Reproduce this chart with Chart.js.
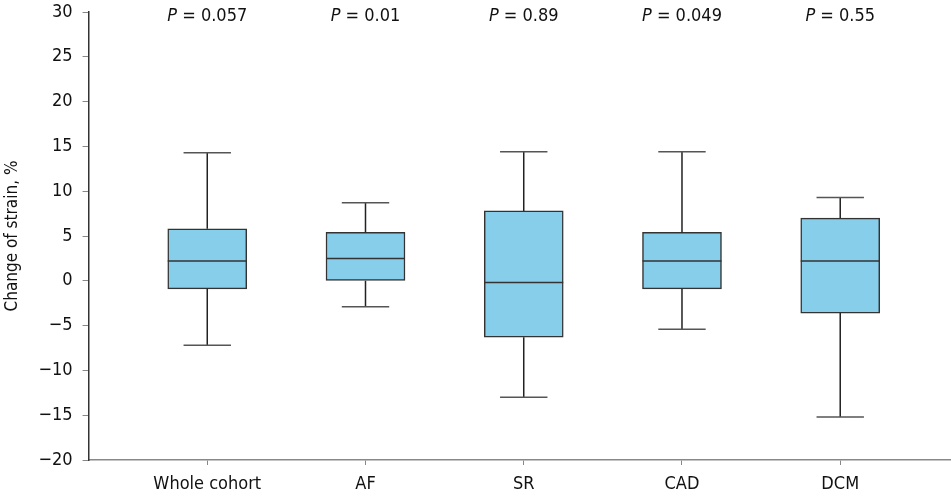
<!DOCTYPE html>
<html>
<head>
<meta charset="utf-8">
<script src="https://cdn.jsdelivr.net/npm/chart.js@4"></script>
<style>
  html, body { margin: 0; padding: 0; background: #fff; }
  #wrap { width: 951px; height: 503px; }
</style>
</head>
<body>
<div id="wrap"><canvas id="boxChart"></canvas></div>
<script>
// data
const categories = ["Whole cohort", "AF", "SR", "CAD", "DCM"];
const whiskerHigh = [14.3, 8.7, 14.4, 14.4, 9.3];
const q3 = [5.8, 5.4, 7.8, 5.4, 7.0];
const median = [2.2, 2.5, -0.2, 2.2, 2.2];
const q1 = [-0.9, 0.0, -6.3, -0.9, -3.6];
const whiskerLow = [-7.2, -2.9, -13.0, -5.4, -15.2];
const pValues = ["0.057", "0.01", "0.89", "0.049", "0.55"];
const yTicks = [-20, -15, -10, -5, 0, 5, 10, 15, 20, 25, 30];

const FONT = "'Liberation Sans Narrow', 'DejaVu Sans Condensed', 'Roboto', sans-serif";
const minus = (v) => String(v).replace("-", "\u2212");

// whiskers, medians and P labels on top of the floating bars
const boxExtras = {
  id: "boxExtras",
  afterDatasetsDraw(chart) {
    const { ctx, scales: { x, y } } = chart;
    const meta = chart.getDatasetMeta(0);
    ctx.save();
    categories.forEach((c, i) => {
      const cx = x.getPixelForValue(i + 1);
      const half = meta.data[i].width / 2;
      const cap = half * 0.6;

      ctx.strokeStyle = "#222";
      ctx.lineWidth = 1.5;
      ctx.beginPath();
      ctx.moveTo(cx, y.getPixelForValue(q3[i]));
      ctx.lineTo(cx, y.getPixelForValue(whiskerHigh[i]));
      ctx.moveTo(cx, y.getPixelForValue(q1[i]));
      ctx.lineTo(cx, y.getPixelForValue(whiskerLow[i]));
      ctx.stroke();

      ctx.strokeStyle = "#555";
      ctx.beginPath();
      ctx.moveTo(cx - cap, y.getPixelForValue(whiskerHigh[i]));
      ctx.lineTo(cx + cap, y.getPixelForValue(whiskerHigh[i]));
      ctx.moveTo(cx - cap, y.getPixelForValue(whiskerLow[i]));
      ctx.lineTo(cx + cap, y.getPixelForValue(whiskerLow[i]));
      ctx.stroke();

      ctx.strokeStyle = "#333";
      ctx.beginPath();
      ctx.moveTo(cx - half, y.getPixelForValue(median[i]));
      ctx.lineTo(cx + half, y.getPixelForValue(median[i]));
      ctx.stroke();

      // P = value, with italic P
      const ty = y.getPixelForValue(30) + 4;
      ctx.fillStyle = "#111";
      ctx.textBaseline = "middle";
      ctx.textAlign = "left";
      ctx.font = "italic 18px " + FONT;
      const pW = ctx.measureText("P").width;
      ctx.font = "18px " + FONT;
      const rest = " = " + pValues[i];
      const rW = ctx.measureText(rest).width;
      const sx = cx - (pW + rW) / 2;
      ctx.font = "italic 18px " + FONT;
      ctx.fillText("P", sx, ty);
      ctx.font = "18px " + FONT;
      ctx.fillText(rest, sx + pW, ty);
    });
    ctx.restore();
  },
};

const ctx = document.getElementById("boxChart").getContext("2d");
new Chart(ctx, {
  type: "bar",
  data: {
    datasets: [
      {
        label: "IQR",
        data: categories.map((c, i) => ({ x: i + 1, y: [q1[i], q3[i]] })),
        backgroundColor: "#87CEEB",
        borderColor: "#333",
        borderWidth: 1.5,
        borderSkipped: false,
        barThickness: 79,
      },
    ],
  },
  options: {
    responsive: true,
    maintainAspectRatio: false,
    animation: false,
    layout: { padding: { top: 0, right: 0, bottom: 0, left: 2 } },
    plugins: {
      legend: { display: false },
      tooltip: { enabled: false },
    },
    scales: {
      x: {
        type: "linear",
        min: 0.25,
        max: 5.7,
        offset: false,
        afterBuildTicks: (axis) => {
          axis.ticks = categories.map((c, i) => ({ value: i + 1 }));
        },
        ticks: {
          callback: (v) => categories[v - 1],
          color: "#111",
          font: { family: FONT, size: 18, lineHeight: 1 },
          padding: 10,
          maxRotation: 0,
          autoSkip: false,
        },
        grid: { offset: false, drawOnChartArea: false, tickLength: 5, color: "#888" },
        border: { color: "#888", width: 1.5 },
      },
      y: {
        min: -20,
        max: 30,
        afterBuildTicks: (axis) => {
          axis.ticks = yTicks.map((v) => ({ value: v }));
        },
        afterFit: (axis) => {
          axis.paddingTop = 12;
        },
        ticks: {
          callback: (v) => minus(v),
          color: "#111",
          font: { family: FONT, size: 18 },
          padding: 10,
        },
        grid: { drawOnChartArea: false, tickLength: 6, color: "#888" },
        border: { color: "#333", width: 1.5 },
        title: {
          display: true,
          text: "Change of strain, %",
          color: "#111",
          font: { family: FONT, size: 17 },
          padding: { top: 0, bottom: 6 },
        },
      },
    },
  },
  plugins: [boxExtras],
});
</script>
</body>
</html>
